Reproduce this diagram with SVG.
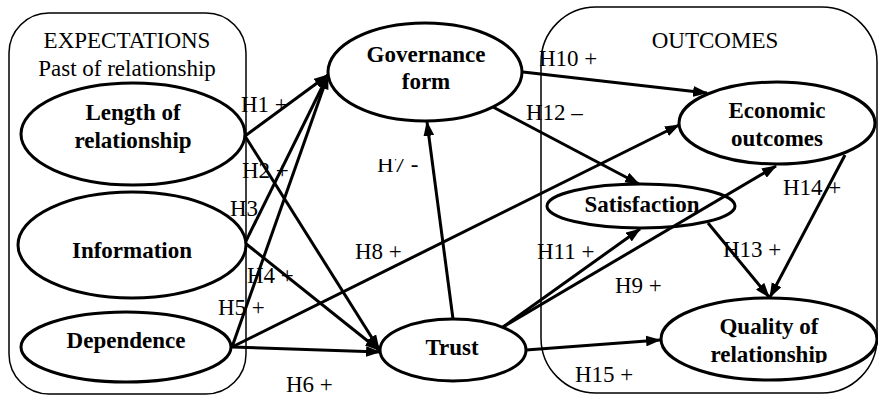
<svg xmlns="http://www.w3.org/2000/svg" width="878" height="396" viewBox="0 0 878 396">
<style>
.box{fill:none;stroke:#000;stroke-width:1.5}
.node{fill:#fff;stroke:#000;stroke-width:3}
text{font-family:'Liberation Serif','Times New Roman',Tinos,'DejaVu Serif',serif;font-size:23px;fill:#000}
.nt{font-weight:bold;text-anchor:middle}
.ht{text-anchor:middle}
.conn path{fill:none;stroke:#000;stroke-width:3;marker-end:url(#ah)}
</style>
<defs>
<marker id="ah" viewBox="0 0 14 10" refX="13" refY="5" markerWidth="15" markerHeight="11" orient="auto" markerUnits="userSpaceOnUse">
<path d="M0,0 L14,5 L0,10 z" fill="#000"/>
</marker>
<clipPath id="clipH7"><rect x="370" y="159" width="60" height="25"/></clipPath>
<clipPath id="clipQ"><rect x="660" y="290" width="220" height="73"/></clipPath>
</defs>
<rect width="878" height="396" fill="#fff"/>
<g id="expectations">
<rect class="box" x="9" y="13" width="237" height="381" rx="40"/>
<text class="ht" x="127" y="48" font-family="Liberation Serif, serif">EXPECTATIONS</text>
<text class="ht" x="127" y="76" font-family="Liberation Serif, serif">Past of relationship</text>
</g>
<g id="outcomes">
<rect class="box" x="541" y="7" width="336" height="386" rx="55"/>
<text class="ht" x="715" y="48">OUTCOMES</text>
</g>
<g id="satisfaction">
<ellipse class="node" cx="641" cy="206" rx="94" ry="22"/>
<text class="nt" x="642" y="212">Satisfaction</text>
</g>
<g id="connectors" class="conn">
<path d="M245,136 L328,75"/>
<path d="M245,136 L379,349"/>
<path d="M245,243 L328,75"/>
<path d="M245,243 L379,350"/>
<path d="M232,347 L328,75"/>
<path d="M232,347 L380,352"/>
<path d="M232,347 L679,125"/>
<path d="M453,319 L427,122"/>
<path d="M523,72 L707,93"/>
<path d="M493,107 L639,184"/>
<path d="M503,327 L640,229"/>
<path d="M503,327 L776,166"/>
<path d="M526,350 L660,340"/>
<path d="M708,223 L769,297"/>
<path d="M845,155 L770,297"/>
</g>
<g id="length">
<ellipse class="node" cx="133" cy="134" rx="112" ry="51"/>
<text class="nt" x="133" y="120">Length of</text>
<text class="nt" x="133" y="148">relationship</text>
</g>
<g id="information">
<ellipse class="node" cx="132" cy="245" rx="114" ry="53"/>
<text class="nt" x="132" y="258">Information</text>
</g>
<g id="dependence">
<ellipse class="node" cx="126" cy="347" rx="105" ry="35"/>
<text class="nt" x="126" y="348">Dependence</text>
</g>
<g id="governance">
<ellipse class="node" cx="425" cy="72" rx="97" ry="49"/>
<text class="nt" x="426" y="62">Governance</text>
<text class="nt" x="426" y="89">form</text>
</g>
<g id="trust">
<ellipse class="node" cx="453" cy="350" rx="73" ry="31"/>
<text class="nt" x="452" y="355">Trust</text>
</g>
<g id="economic">
<ellipse class="node" cx="777" cy="123" rx="98" ry="41"/>
<text class="nt" x="777" y="118">Economic</text>
<text class="nt" x="777" y="146">outcomes</text>
</g>
<g id="quality">
<ellipse class="node" cx="769" cy="339" rx="108" ry="41"/>
<text class="nt" x="769" y="334">Quality of</text>
<text class="nt" x="769" y="362" clip-path="url(#clipQ)">relationship</text>
</g>
<g id="labels">
<text x="241" y="112">H1 +</text>
<text x="242" y="178">H2 +</text>
<text x="230" y="216">H3</text>
<text x="247" y="283">H4 +</text>
<text x="218" y="315">H5 +</text>
<text x="286" y="392">H6 +</text>
<text x="377" y="172" clip-path="url(#clipH7)">H7 -</text>
<text x="355" y="259">H8 +</text>
<text x="539" y="66">H10 +</text>
<text x="526" y="120">H12 –</text>
<text x="537" y="259">H11 +</text>
<text x="615" y="293">H9 +</text>
<text x="723" y="257">H13 +</text>
<text x="783" y="195">H14 +</text>
<text x="575" y="382">H15 +</text>
</g>
</svg>
